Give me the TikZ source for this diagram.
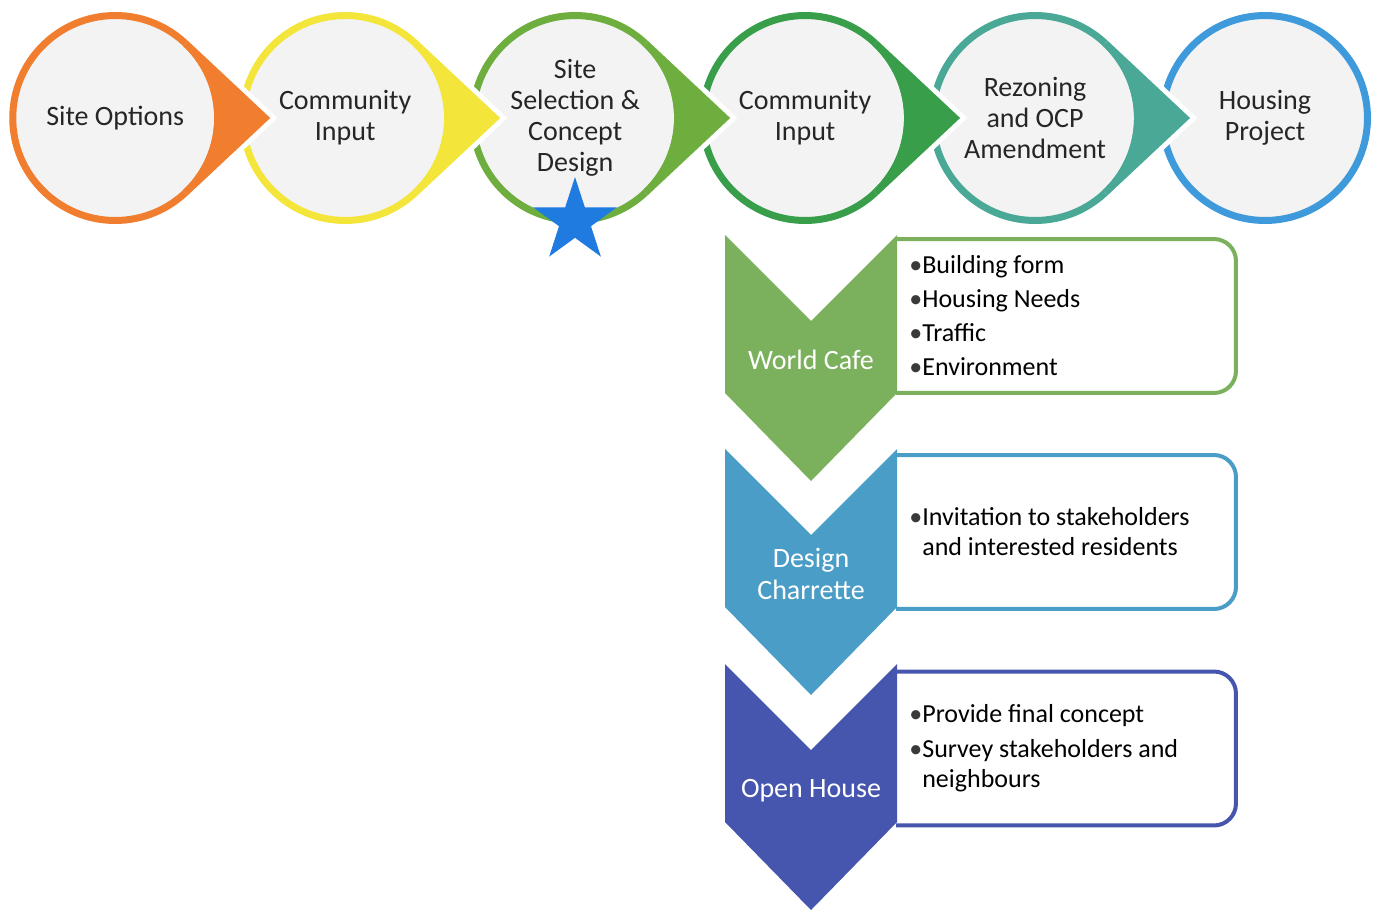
\documentclass[tikz,border=0pt]{standalone}
\usepackage{fontspec}
\setmainfont{Carlito}
\usetikzlibrary{positioning, calc, shapes.geometric}

\definecolor{siteorange}{HTML}{F07E2E}
\definecolor{inputyellow}{HTML}{F3E53A}
\definecolor{selectgreen}{HTML}{6DAE3E}
\definecolor{inputgreen}{HTML}{389E4A}
\definecolor{rezoneteal}{HTML}{49A896}
\definecolor{housingblue}{HTML}{3E9ADB}
\definecolor{starblue}{HTML}{1F7BE0}
\definecolor{cafegreen}{HTML}{7BB15D}
\definecolor{charretteblue}{HTML}{4A9DC6}
\definecolor{openblue}{HTML}{4656AE}
\definecolor{ringfill}{HTML}{F3F3F3}
\definecolor{inktext}{HTML}{262626}
\definecolor{dotgray}{HTML}{3A3A3A}

% pointed tip of a stage circle: node, colour
\newcommand{\stagetip}[2]{%
  \draw[white, line width=0.2cm] ($(#1)+(46.8:106)$) -- ($(#1)+(155,0)$) -- ($(#1)+(-46.8:106)$);
  \fill[#2] ($(#1)+(155,0)$) -- ($(#1)+(46.8:106)$) -- ($(#1)+(46.8:99)$)
      arc[start angle=46.8, end angle=-46.8, radius=99] -- ($(#1)+(-46.8:106)$) -- cycle;
}
\newcommand{\bul}{{\color{dotgray}\textbullet}}

\begin{document}
\begin{tikzpicture}[
    x=0.02cm, y=-0.02cm, node distance=0.5cm,
    stage/.style={circle, line width=0.14cm, fill=ringfill, minimum size=4.1cm,
        inner sep=0pt, outer sep=0pt, align=center, text=inktext,
        font=\fontsize{0.56cm}{0.62cm}\selectfont},
    listbox/.style={fill=white, minimum width=6.8cm, minimum height=3.08cm, outer sep=0pt},
    boxline/.style={rounded corners=0.44cm, line width=0.08cm},
    listtext/.style={anchor=west, align=left, text=black, inner sep=0pt,
        font=\fontsize{0.52cm}{0.6cm}\selectfont},
    chevtext/.style={text=white, align=center, font=\fontsize{0.56cm}{0.64cm}\selectfont}
]
    \useasboundingbox (0,0) rectangle (1375,913);

    % Top Level, right to left so every tip lies over its neighbour
    \node[stage, draw=housingblue] (HP) at (1265,118) {Housing\\Project};
    \node[stage, draw=rezoneteal, left=of HP] (RZ) {Rezoning\\and OCP\\Amendment};
    \stagetip{RZ}{rezoneteal}
    \node[stage, draw=inputgreen, left=of RZ] (CI2) {Community\\Input};
    \stagetip{CI2}{inputgreen}
    \node[stage, draw=selectgreen, left=of CI2] (SS) {Site\\Selection \&\\Concept\\Design};
    \stagetip{SS}{selectgreen}
    \node[stage, draw=inputyellow, left=of SS] (CI1) {Community\\Input};
    \stagetip{CI1}{inputyellow}
    \node[stage, draw=siteorange, left=of CI1] (SO) {Site Options};
    \stagetip{SO}{siteorange}

    % Star on the selection stage
    \node[star, star points=5, star point ratio=2.618, minimum size=1.76cm,
        inner sep=0pt, fill=starblue] (STAR) at (575,221) {};

    % World Cafe
    \node[listbox] (WCbox) at (1066,316) {};
    \draw[boxline, cafegreen] (WCbox.north west) -- (WCbox.north east) -- (WCbox.south east) -- (WCbox.south west);
    \fill[cafegreen] (725,235) -- (811,321) -- (897,235) -- (897,393) -- (811,481) -- (725,393) -- cycle;
    \node[chevtext] (WC) at (811,360) {World Cafe};
    \node[listtext] (WClist) at ($(WCbox.west)+(13,0)$)
        {\bul Building form\\[0.08cm]\bul Housing Needs\\[0.08cm]\bul Traffic\\[0.08cm]\bul Environment};

    % Design Charrette
    \node[listbox] (DCbox) at (1066,532) {};
    \draw[boxline, charretteblue] (DCbox.north west) -- (DCbox.north east) -- (DCbox.south east) -- (DCbox.south west);
    \fill[charretteblue] (725,449) -- (811,535) -- (897,449) -- (897,607) -- (811,695) -- (725,607) -- cycle;
    \node[chevtext] (DC) at (811,574) {Design\\Charrette};
    \node[listtext] (DClist) at ($(DCbox.west)+(13,0)$)
        {\bul Invitation to stakeholders\\\phantom{\textbullet}and interested residents};

    % Open House
    \node[listbox] (OHbox) at (1066,748.5) {};
    \draw[boxline, openblue] (OHbox.north west) -- (OHbox.north east) -- (OHbox.south east) -- (OHbox.south west);
    \fill[openblue] (725,664) -- (811,750) -- (897,664) -- (897,822) -- (811,910) -- (725,822) -- cycle;
    \node[chevtext] (OH) at (811,791) {Open House};
    \node[listtext] (OHlist) at ($(OHbox.west)+(13,0)$)
        {\bul Provide final concept\\[0.1cm]\bul Survey stakeholders and\\\phantom{\textbullet}neighbours};

\end{tikzpicture}
\end{document}
